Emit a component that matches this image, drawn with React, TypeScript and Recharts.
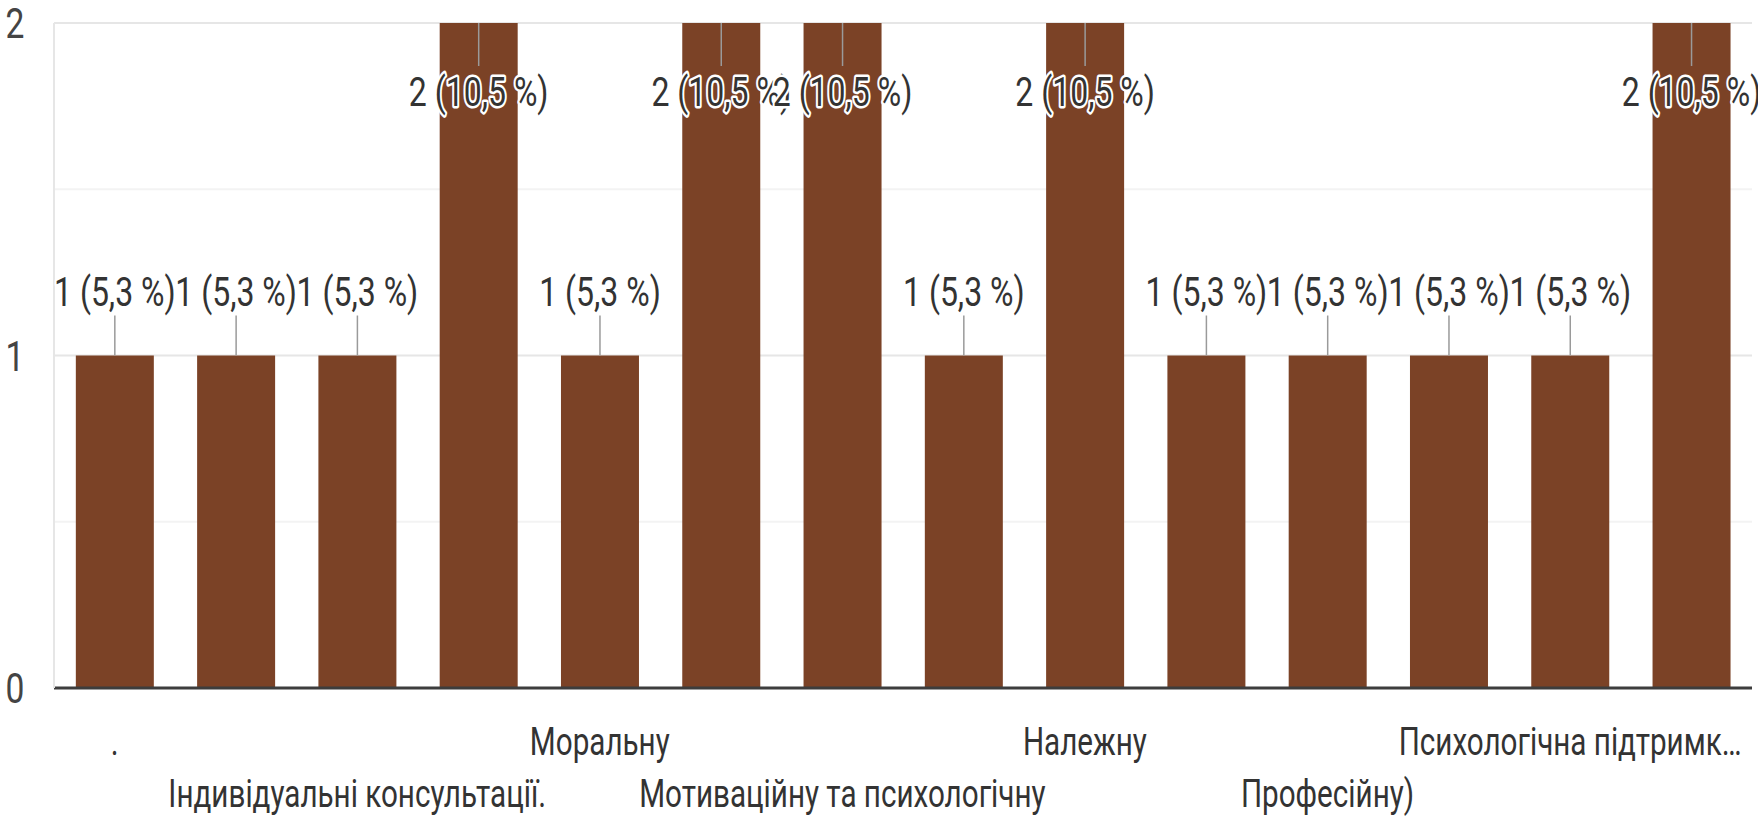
import React from "react";
import { BarChart, Bar, XAxis, YAxis, CartesianGrid, LabelList } from "recharts";

const categories = [
  ".",
  "Всебічну",
  "Індивідуальні консультації.",
  "Консультації психолога",
  "Моральну",
  "Моральну підтримку",
  "Мотиваційну та психологічну",
  "Навчання",
  "Належну",
  "Підтримку колег",
  "Професійну)",
  "Професійну підтримку",
  "Психологічна підтримк…",
  "Супровід",
];
const counts = [1, 1, 1, 2, 1, 2, 2, 1, 2, 1, 1, 1, 1, 2];
const yTicks = [0, 0.5, 1, 1.5, 2];

const total = counts.reduce((a, b) => a + b, 0);
const data = categories.map((name, i) => ({ name, value: counts[i] }));

const FONT = "Roboto, 'Liberation Sans', Arial, sans-serif";
const SX = 0.8;

const fmtPct = (v: number) => `${v} (${((v / total) * 100).toFixed(1).replace(".", ",")} %)`;

const BarLabel = (props: any) => {
  const { x, y, width, value } = props;
  const cx = x + width / 2;
  const inside = y < 100;
  const lineEnd = inside ? y + 43 : y - 40;
  const baseY = inside ? y + 83 : y - 50;
  return (
    <g>
      <line x1={cx} y1={y} x2={cx} y2={lineEnd} stroke="#9a9a9a" strokeWidth={1.5} />
      <text
        transform={`translate(${cx},${baseY}) scale(${SX},1)`}
        textAnchor="middle"
        fontFamily={FONT}
        fontSize={40}
        fill="#333"
        stroke="#fff"
        strokeWidth={5}
        paintOrder="stroke"
        strokeLinejoin="round"
      >
        {fmtPct(value)}
      </text>
    </g>
  );
};

const XTick = (props: any) => {
  const { x, y, payload, index } = props;
  if (index % 2 !== 0) return null;
  const row = (index / 2) % 2;
  const baseY = y + (row === 0 ? 67 : 119);
  return (
    <text
      transform={`translate(${x},${baseY}) scale(0.78,1)`}
      textAnchor="middle"
      fontFamily={FONT}
      fontSize={38}
      fill="#333"
    >
      {payload.value}
    </text>
  );
};

const YTick = (props: any) => {
  const { x, y, payload } = props;
  if (!Number.isInteger(payload.value)) return null;
  return (
    <text
      transform={`translate(${x - 39},${y + 15}) scale(${SX},1)`}
      textAnchor="middle"
      fontFamily={FONT}
      fontSize={42}
      fill="#444"
    >
      {payload.value}
    </text>
  );
};

const GridLine = (props: any) => {
  const { x1, x2, y1, y2, index } = props;
  const minor = index % 2 === 1;
  return (
    <line
      x1={x1}
      x2={x2}
      y1={y1}
      y2={y2}
      stroke={minor ? "#f3f3f3" : "#e6e6e6"}
      strokeWidth={2}
    />
  );
};

export default function App() {
  return (
    <div style={{ position: "absolute", left: 0, top: 0, width: 1758, height: 822, background: "#fff" }}>
      <BarChart
        width={1758}
        height={822}
        data={data}
        margin={{ top: 23, right: 6, bottom: 0, left: 0 }}
        barCategoryGap="18%"
      >
        <CartesianGrid vertical={false} horizontal={<GridLine />} />
        <XAxis
          dataKey="name"
          interval={0}
          height={134}
          tickSize={0}
          tickMargin={0}
          tick={<XTick />}
          axisLine={{ stroke: "#3d3d3d", strokeWidth: 3 }}
        />
        <YAxis
          width={54}
          domain={[0, 2]}
          ticks={yTicks}
          interval={0}
          tickSize={0}
          tickMargin={0}
          tick={<YTick />}
          axisLine={{ stroke: "#e6e6e6", strokeWidth: 2 }}
        />
        <Bar dataKey="value" fill="#7b4226" isAnimationActive={false}>
          <LabelList dataKey="value" content={<BarLabel />} />
        </Bar>
      </BarChart>
    </div>
  );
}
